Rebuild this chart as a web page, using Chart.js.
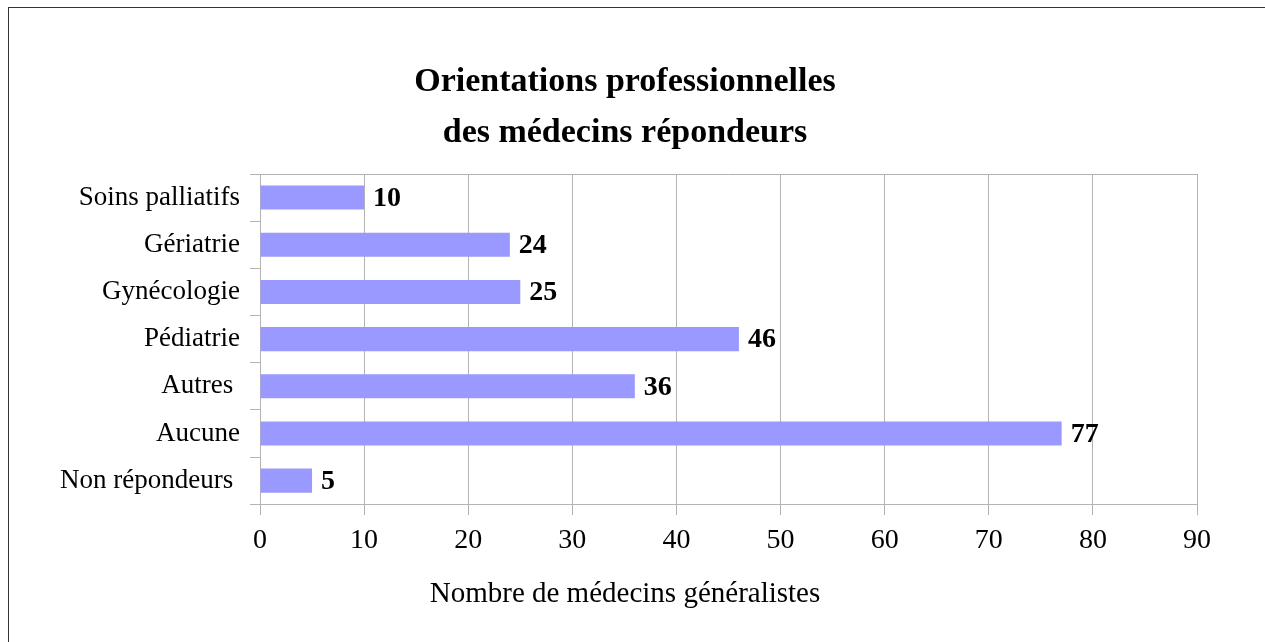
<!DOCTYPE html>
<html>
<head>
<meta charset="utf-8">
<script src="https://cdn.jsdelivr.net/npm/chart.js@4/dist/chart.umd.min.js"></script>
<style>
  body { margin: 0; background: #fff; overflow: hidden; }
  #frame { position: absolute; left: 8px; top: 7px; width: 1300px; height: 700px; border: 1px solid #333; }
  #wrap { position: absolute; left: 0; top: 0; width: 1250px; height: 642px; }
</style>
</head>
<body>
<div id="frame"></div>
<div id="wrap"><canvas id="orient-chart"></canvas></div>
<script>
// Chart data
const categories = ["Soins palliatifs", "Gériatrie", "Gynécologie", "Pédiatrie", "Autres ", "Aucune", "Non répondeurs "];
const medecins = [10, 24, 25, 46, 36, 77, 5];
const titleLines = ["Orientations professionnelles", "des médecins répondeurs"];
const axisTitle = "Nombre de médecins généralistes";
const xMin = 0;
const xMax = 90;
const xStep = 10;

const FONT = "'Liberation Serif', 'Times New Roman', serif";
const GRID = "#b3b3b3";

// value labels at the end of each bar
const barLabels = {
  id: "barLabels",
  afterDatasetsDraw(chart) {
    const ctx = chart.ctx;
    const meta = chart.getDatasetMeta(0);
    ctx.save();
    ctx.font = "bold 28px " + FONT;
    ctx.fillStyle = "#000";
    ctx.textAlign = "left";
    ctx.textBaseline = "middle";
    meta.data.forEach((bar, i) => {
      ctx.fillText(String(chart.data.datasets[0].data[i]), bar.x + 9, bar.y + 1);
    });
    ctx.restore();
  },
};

// top edge of the plot area
const topBorder = {
  id: "topBorder",
  afterDraw(chart) {
    const { ctx, chartArea } = chart;
    ctx.save();
    ctx.strokeStyle = GRID;
    ctx.lineWidth = 1;
    ctx.beginPath();
    ctx.moveTo(chartArea.left, Math.round(chartArea.top) + 0.5);
    ctx.lineTo(chartArea.right, Math.round(chartArea.top) + 0.5);
    ctx.stroke();
    ctx.restore();
  },
};

const data = {
  labels: categories,
  datasets: [
    {
      data: medecins,
      backgroundColor: "#9999ff",
      borderWidth: 0,
      barPercentage: 0.51,
      categoryPercentage: 1,
    },
  ],
};

const config = {
  type: "bar",
  data: data,
  options: {
    indexAxis: "y",
    responsive: false,
    animation: false,
    layout: { padding: 0 },
    plugins: {
      legend: { display: false },
      tooltip: { enabled: false },
      title: {
        display: true,
        text: titleLines,
        color: "#000",
        font: { family: FONT, size: 34, weight: "bold", lineHeight: 1.5 },
        padding: { top: 57, bottom: 15 },
      },
      subtitle: {
        display: true,
        position: "bottom",
        text: axisTitle,
        color: "#000",
        font: { family: FONT, size: 29, weight: "normal", lineHeight: 1.2 },
        padding: { top: 22, bottom: 30 },
      },
    },
    scales: {
      x: {
        min: xMin,
        max: xMax,
        ticks: {
          stepSize: xStep,
          color: "#000",
          padding: 9,
          font: { family: FONT, size: 28 },
        },
        grid: { color: GRID, tickLength: 11, drawTicks: true },
        border: { color: GRID },
        afterFit(scale) { scale.height = 51; },
      },
      y: {
        ticks: {
          color: "#000",
          padding: 10,
          font: { family: FONT, size: 27 },
        },
        grid: { color: GRID, offset: true, drawOnChartArea: false, tickLength: 10 },
        border: { color: GRID },
        afterFit(scale) { scale.width = 260; },
      },
      // empty spacer on the right so titles stay centred on the canvas
      yRight: {
        type: "category",
        position: "right",
        ticks: { display: false },
        grid: { display: false },
        border: { display: false },
        afterFit(scale) { scale.width = 53; },
      },
    },
  },
  plugins: [barLabels, topBorder],
};

const canvas = document.getElementById("orient-chart");
canvas.width = 1250;
canvas.height = 642;
const myChart = new Chart(canvas, config);
</script>
</body>
</html>
